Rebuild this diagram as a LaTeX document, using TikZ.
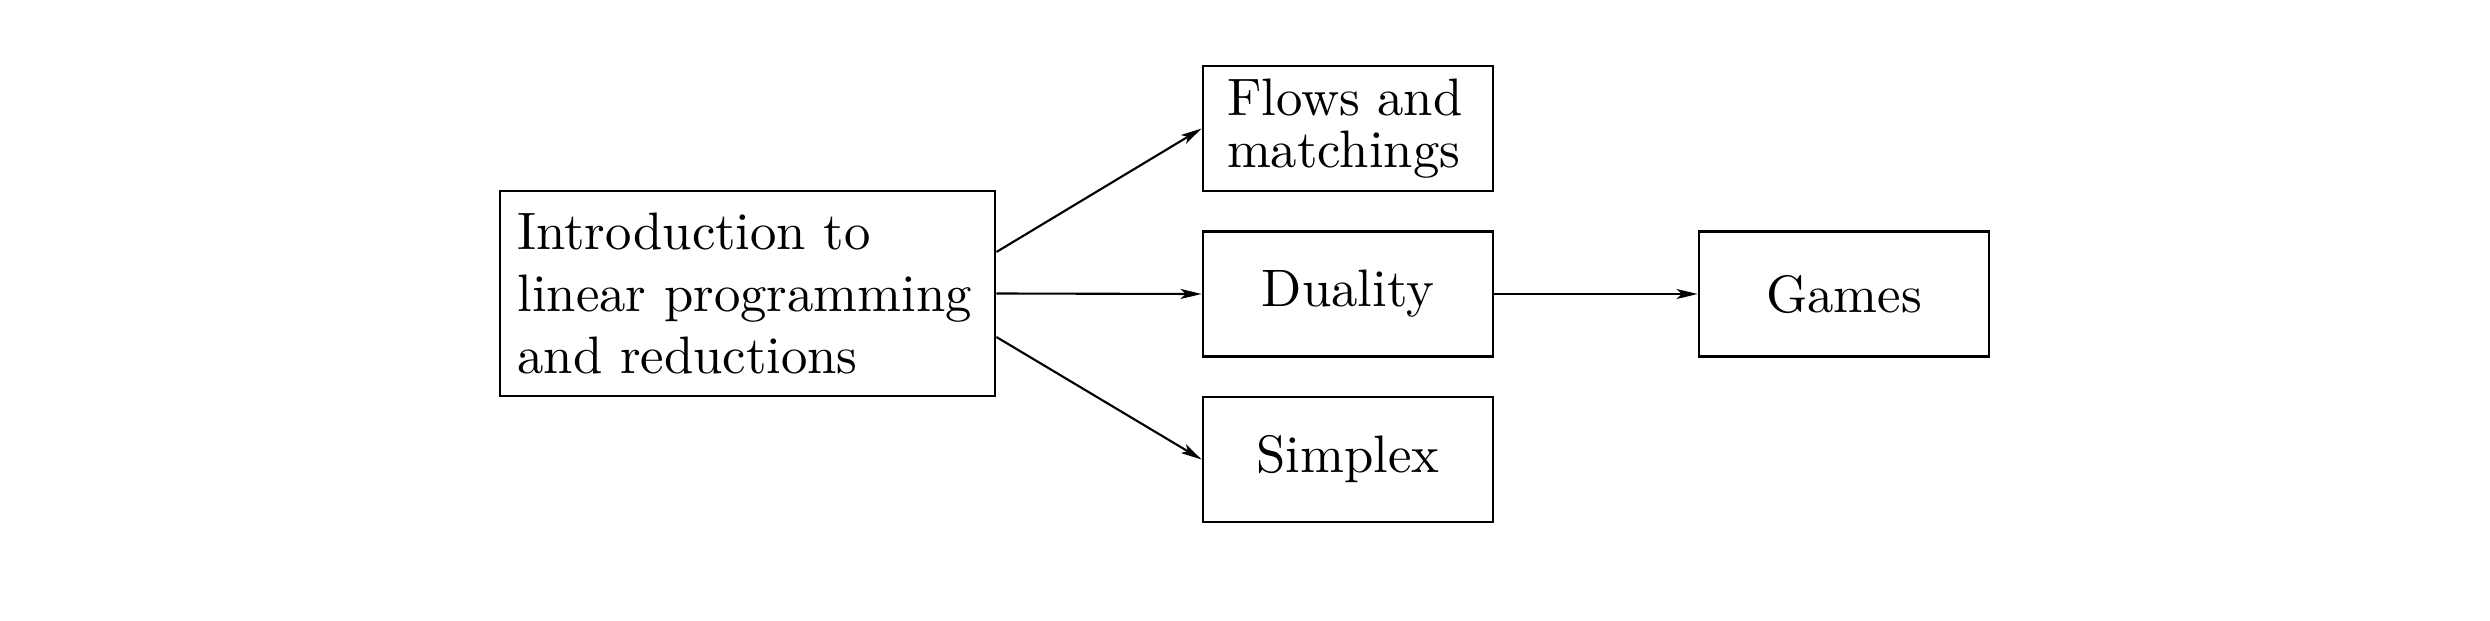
\documentclass[tikz,border=0pt]{standalone}
\usepackage{fontspec}
\setmainfont{lmroman10-regular.otf}
\usetikzlibrary{arrows.meta}
\begin{document}
\begin{tikzpicture}[
  box/.style={draw, line width=0.8pt, inner sep=0pt, minimum width=2.9cm, minimum height=1.25cm,
    font=\fontsize{15pt}{18pt}\selectfont},
  conn/.style={line width=0.6pt, -{Stealth[length=2.1mm,width=1mm,inset=0.5mm]}}
]
\useasboundingbox (0,0) rectangle (24.9,6.2);
\node[box, minimum width=4.95cm, minimum height=2.05cm, align=left, text width=4.6cm,
  font=\fontsize{15pt}{17.6pt}\selectfont] (intro) at (7.475,3.265)
  {Introduction to\\linear programming\\and reductions};
\node[box, align=left, text width=2.42cm, font=\fontsize{15pt}{15pt}\selectfont] (flows) at (13.48,4.915)
  {Flows and\\matchings};
\node[box] (duality) at (13.48,3.26) {Duality};
\node[box] (simplex) at (13.48,1.605) {Simplex};
\node[box] (games) at (18.44,3.26) {Games};
\coordinate (s1) at ([yshift=0.415cm]intro.east);
\coordinate (s3) at ([yshift=-0.435cm]intro.east);
\draw[conn] (s1) -- (flows.west);
\draw[conn] (intro.east) -- (duality.west);
\draw[conn] (s3) -- (simplex.west);
\draw[conn] (duality.east) -- (games.west);
\end{tikzpicture}
\end{document}
